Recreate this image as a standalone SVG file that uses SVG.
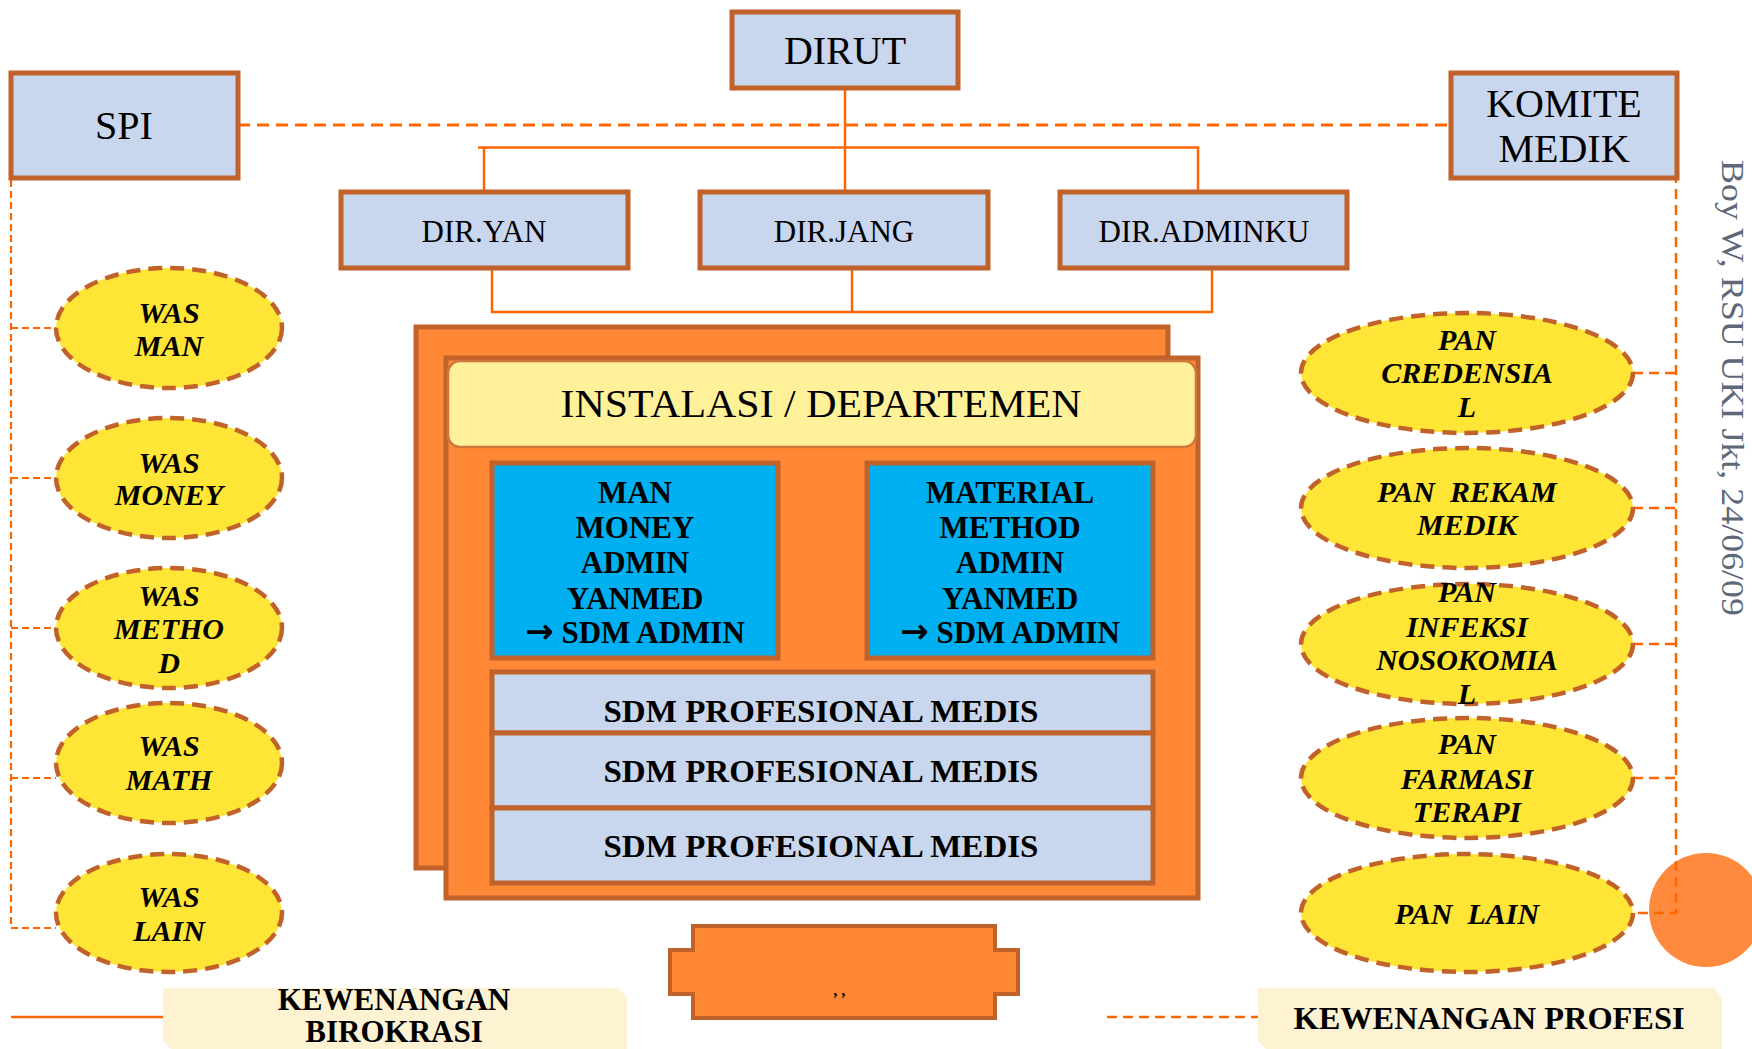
<svg xmlns="http://www.w3.org/2000/svg" width="1752" height="1049" viewBox="0 0 1752 1049">
<style>
.box{fill:#C8D6EE;stroke:#C0622A;stroke-width:5}
.conn{stroke:#FF6600;stroke-width:2.5;fill:none}
.dash{stroke:#FF6600;stroke-width:3;stroke-dasharray:12 7;fill:none}
.dashL{stroke:#FF6600;stroke-width:2.2;stroke-dasharray:7 4;fill:none}
.dashR{stroke:#FF6600;stroke-width:2.5;stroke-dasharray:10 6;fill:none}
.ell{fill:#FFE536;stroke:#C0622A;stroke-width:4.5;stroke-dasharray:14 8}
.t{font-family:"Liberation Serif","DejaVu Serif",serif;text-anchor:middle;fill:#000}
.big{font-size:40px}
.dir{font-size:31px}
.bi{font-weight:bold;font-style:italic;font-size:30px}
.b{font-weight:bold;font-size:31px}
.arr{font-family:"DejaVu Sans",sans-serif;font-weight:bold;font-size:34px}
.org{fill:#FF8836;stroke:#C0622A;stroke-width:5}
.blue{fill:#00B0F0;stroke:#C0622A;stroke-width:5}
.cream{fill:#FDF3D3}
</style>
<rect width="1752" height="1049" fill="#FFFFFF"/>
<circle cx="1706" cy="910" r="57" fill="#FF8A3D"/>
<g id="connectors">
<line class="dash" x1="238" y1="125" x2="1451" y2="125"/>
<line class="conn" x1="845" y1="88" x2="845" y2="192"/>
<polyline class="conn" points="478,147.5 1198,147.5 1198,192"/>
<line class="conn" x1="484" y1="147.5" x2="484" y2="192"/>
<polyline class="conn" points="492,268 492,312 1212,312 1212,268"/>
<line class="conn" x1="852" y1="268" x2="852" y2="312"/>
<polyline class="dashL" points="11,125 11,928 56,928"/>
<line class="dashL" x1="11" y1="328" x2="56" y2="328"/>
<line class="dashL" x1="11" y1="478" x2="56" y2="478"/>
<line class="dashL" x1="11" y1="628" x2="56" y2="628"/>
<line class="dashL" x1="11" y1="778" x2="56" y2="778"/>
<polyline class="dashR" points="1676,125 1676,913 1633,913"/>
<line class="dashR" x1="1633" y1="373" x2="1676" y2="373"/>
<line class="dashR" x1="1633" y1="508" x2="1676" y2="508"/>
<line class="dashR" x1="1633" y1="644" x2="1676" y2="644"/>
<line class="dashR" x1="1633" y1="778" x2="1676" y2="778"/>
<line class="conn" x1="11" y1="1017" x2="163" y2="1017"/>
<line class="dashR" x1="1107" y1="1017" x2="1258" y2="1017"/>
</g>
<g id="dirut"><rect class="box" x="732" y="12" width="226" height="76"/><text class="t big" x="845" y="64">DIRUT</text></g>
<g id="spi"><rect class="box" x="11" y="73" width="227" height="105"/><text class="t big" x="124" y="139">SPI</text></g>
<g id="komite"><rect class="box" x="1451" y="73" width="226" height="105"/><text class="t big" x="1564" y="117">KOMITE</text><text class="t big" x="1564" y="162">MEDIK</text></g>
<g id="diryan"><rect class="box" x="341" y="192" width="287" height="76"/><text class="t dir" x="484" y="242">DIR.YAN</text></g>
<g id="dirjang"><rect class="box" x="700" y="192" width="288" height="76"/><text class="t dir" x="844" y="242">DIR.JANG</text></g>
<g id="diradminku"><rect class="box" x="1060" y="192" width="287" height="76"/><text class="t dir" x="1204" y="242">DIR.ADMINKU</text></g>
<g id="instalasi">
<rect class="org" x="416" y="327" width="752" height="541"/>
<rect class="org" x="446" y="358" width="752" height="540"/>
<rect x="448" y="361" width="748" height="86" rx="12" fill="#FFF09A" stroke="#D0763A" stroke-width="2.5"/>
<text class="t big" x="821" y="417" textLength="521" lengthAdjust="spacingAndGlyphs">INSTALASI / DEPARTEMEN</text>
</g>
<g id="blue-left"><rect class="blue" x="492" y="463" width="286" height="195"/>
<text class="t b"><tspan x="635" y="503">MAN</tspan><tspan x="635" y="538">MONEY</tspan><tspan x="635" y="573">ADMIN</tspan><tspan x="635" y="609">YANMED</tspan><tspan x="635" y="643"><tspan class="arr">→</tspan> SDM ADMIN</tspan></text></g>
<g id="blue-right"><rect class="blue" x="867" y="463" width="286" height="195"/>
<text class="t b"><tspan x="1010" y="503">MATERIAL</tspan><tspan x="1010" y="538">METHOD</tspan><tspan x="1010" y="573">ADMIN</tspan><tspan x="1010" y="609">YANMED</tspan><tspan x="1010" y="643"><tspan class="arr">→</tspan> SDM ADMIN</tspan></text></g>
<g id="sdm1"><rect class="box" x="492" y="672" width="661" height="61"/><text class="t b" x="821" y="722" textLength="435" lengthAdjust="spacingAndGlyphs">SDM PROFESIONAL MEDIS</text></g>
<g id="sdm2"><rect class="box" x="492" y="733" width="661" height="75"/><text class="t b" x="821" y="782" textLength="435" lengthAdjust="spacingAndGlyphs">SDM PROFESIONAL MEDIS</text></g>
<g id="sdm3"><rect class="box" x="492" y="808" width="661" height="75"/><text class="t b" x="821" y="857" textLength="435" lengthAdjust="spacingAndGlyphs">SDM PROFESIONAL MEDIS</text></g>
<g id="plaque"><polygon points="693,926 995,926 995,950 1018,950 1018,994 995,994 995,1018 693,1018 693,994 670,994 670,950 693,950" fill="#FF8836" stroke="#C0622A" stroke-width="4"/>
<text class="t" x="840" y="996" font-size="16" font-weight="bold" font-style="italic">, ,</text></g>
<g id="was-man"><ellipse class="ell" cx="169" cy="328" rx="113" ry="60"/><text class="t bi"><tspan x="169" y="323">WAS</tspan><tspan x="169" y="356">MAN</tspan></text></g>
<g id="was-money"><ellipse class="ell" cx="169" cy="478" rx="113" ry="60"/><text class="t bi"><tspan x="169" y="473">WAS</tspan><tspan x="169" y="505">MONEY</tspan></text></g>
<g id="was-method"><ellipse class="ell" cx="169" cy="628" rx="113" ry="60"/><text class="t bi"><tspan x="169" y="606">WAS</tspan><tspan x="169" y="639">METHO</tspan><tspan x="169" y="673">D</tspan></text></g>
<g id="was-math"><ellipse class="ell" cx="169" cy="763" rx="113" ry="60"/><text class="t bi"><tspan x="169" y="756">WAS</tspan><tspan x="169" y="790">MATH</tspan></text></g>
<g id="was-lain"><ellipse class="ell" cx="169" cy="913" rx="113" ry="59"/><text class="t bi"><tspan x="169" y="907">WAS</tspan><tspan x="169" y="941">LAIN</tspan></text></g>
<g id="pan-credensial"><ellipse class="ell" cx="1467" cy="373" rx="166" ry="60"/><text class="t bi"><tspan x="1467" y="350">PAN</tspan><tspan x="1467" y="383">CREDENSIA</tspan><tspan x="1467" y="417">L</tspan></text></g>
<g id="pan-rekam"><ellipse class="ell" cx="1467" cy="508" rx="166" ry="60"/><text class="t bi" xml:space="preserve"><tspan x="1467" y="502">PAN  REKAM</tspan><tspan x="1467" y="535">MEDIK</tspan></text></g>
<g id="pan-infeksi"><ellipse class="ell" cx="1467" cy="644" rx="166" ry="60"/><text class="t bi"><tspan x="1467" y="602">PAN</tspan><tspan x="1467" y="637">INFEKSI</tspan><tspan x="1467" y="670">NOSOKOMIA</tspan><tspan x="1467" y="704">L</tspan></text></g>
<g id="pan-farmasi"><ellipse class="ell" cx="1467" cy="778" rx="166" ry="60"/><text class="t bi"><tspan x="1467" y="754">PAN</tspan><tspan x="1467" y="789">FARMASI</tspan><tspan x="1467" y="822">TERAPI</tspan></text></g>
<g id="pan-lain"><ellipse class="ell" cx="1467" cy="913" rx="166" ry="59"/><text class="t bi" x="1467" y="924" xml:space="preserve">PAN  LAIN</text></g>
<g id="kew-birokrasi"><polygon class="cream" points="163,988 619,988 627,997 627,1049 171,1049 163,1041"/>
<text class="t b" font-size="30"><tspan x="394" y="1010">KEWENANGAN</tspan><tspan x="394" y="1042">BIROKRASI</tspan></text></g>
<g id="kew-profesi"><polygon class="cream" points="1258,988 1714,988 1722,997 1722,1049 1266,1049 1258,1041"/>
<text class="t b" x="1489" y="1029" font-size="30" textLength="391" lengthAdjust="spacingAndGlyphs">KEWENANGAN PROFESI</text></g>
<g id="credit"><text transform="translate(1722,160) rotate(90)" x="0" y="0" font-family="Liberation Serif, DejaVu Serif, serif" font-size="32" fill="#5E6878" textLength="456" lengthAdjust="spacingAndGlyphs">Boy W, RSU UKI Jkt, 24/06/09</text></g>
</svg>
